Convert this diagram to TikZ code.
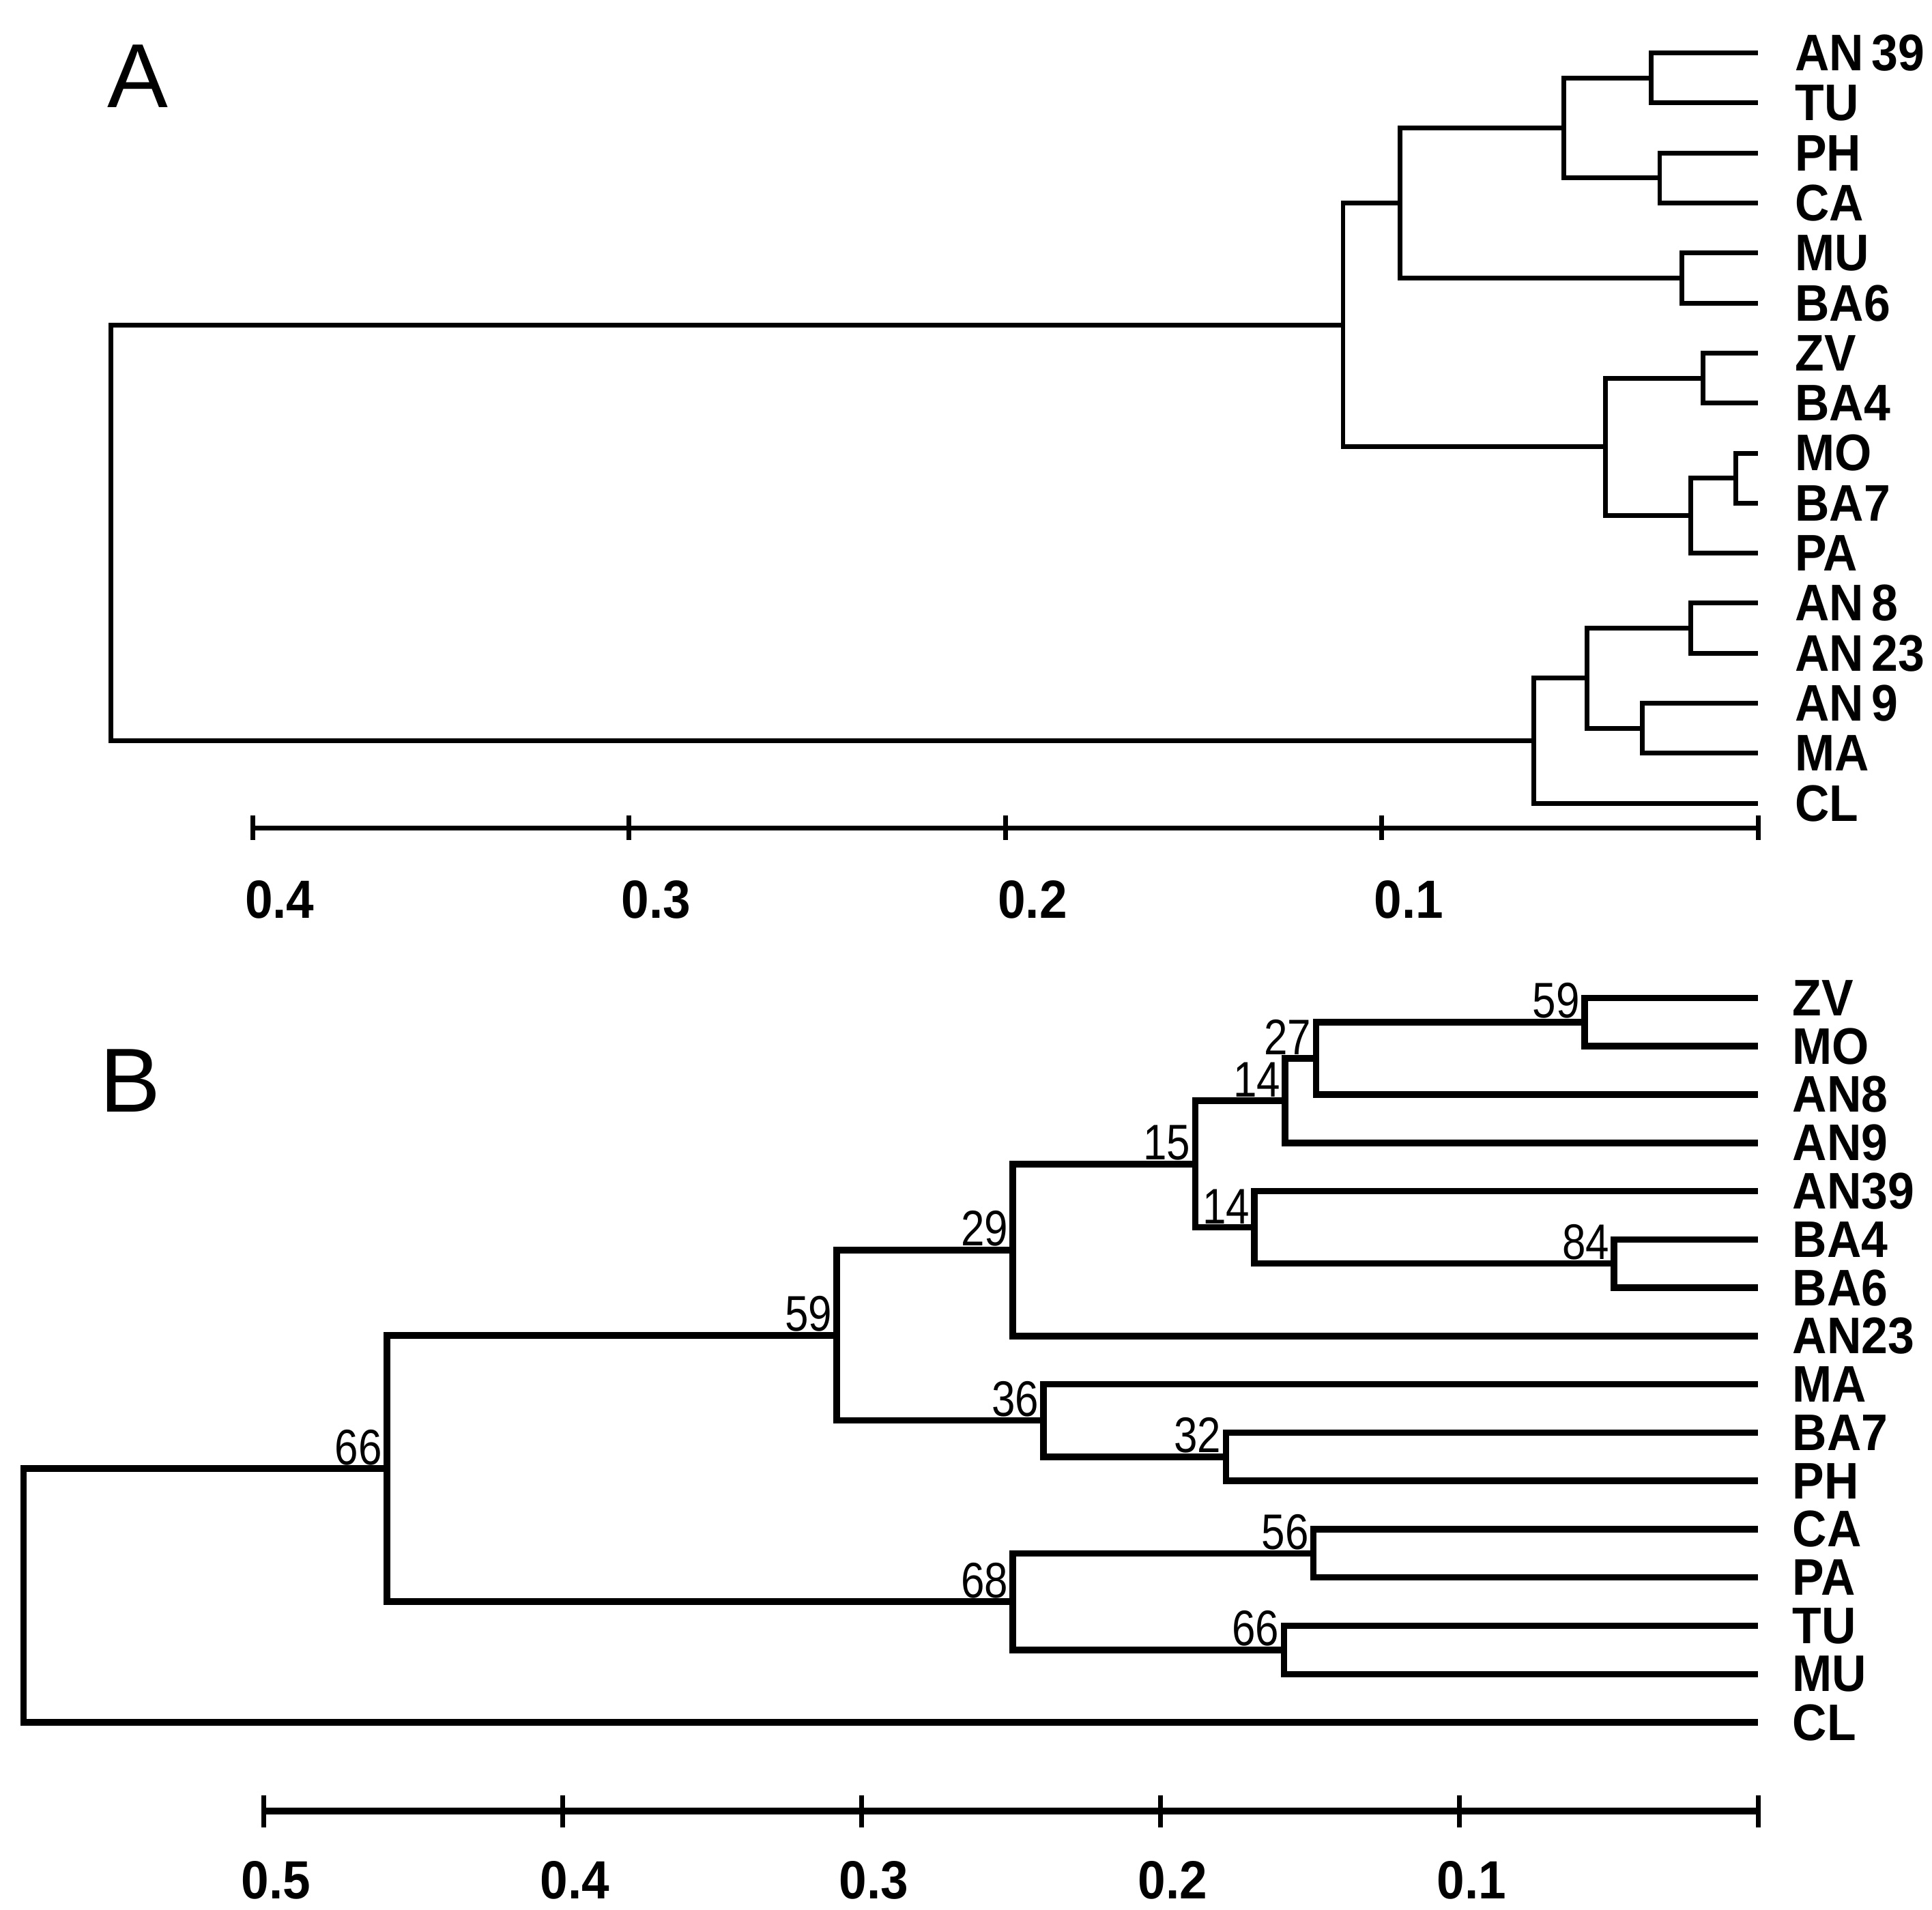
\documentclass[tikz,border=0pt]{standalone}
\usepackage{fontspec}
\setmainfont{Liberation Sans}
\usetikzlibrary{positioning}
\newcommand{\vstretch}[1]{\scalebox{1}[1.08]{#1}}
\newcommand{\bootnum}[1]{\scalebox{0.93}[1.1]{#1}}
\tikzset{
    every picture/.style={line width=0.5pt},
    treeA/.style={line width=1.1pt},
    treeB/.style={line width=1.5pt},
    leaflab/.style={inner sep=0pt,font=\fontsize{11}{13}\selectfont\bfseries},
    bootlab/.style={inner sep=0pt,font=\fontsize{10.5}{12}\selectfont},
    axlab/.style={inner sep=0pt,font=\fontsize{11.5}{13}\selectfont\bfseries},
    panellab/.style={inner sep=0pt,font=\fontsize{21}{24}\selectfont}
}

\begin{document}
\begin{tikzpicture}[x=0.1mm,y=-0.1mm]
    \useasboundingbox (0,0) rectangle (1568,1550);

    % Panel A
    \node[panellab] (pA) at (112,62) {A};
    \foreach \nm/\txt [count=\i from 0] in {AN39/{AN\,39},TU/TU,PH/PH,CA/CA,MU/MU,BA6/BA6,ZV/ZV,BA4/BA4,MO/MO,BA7/BA7,PA/PA,AN8/{AN\,8},AN23/{AN\,23},AN9/{AN\,9},MA/MA,CL/CL}{
        \coordinate (a\nm) at (1427,{43+40.6*\i});
        \node[leaflab,right=2.9mm of a\nm] (a\nm-t) {\vstretch{\txt}};
    }
    \coordinate (aN1) at (1340,63.3);
    \coordinate (aN2) at (1347,144.5);
    \coordinate (aN3) at (1269,103.9);
    \coordinate (aN4) at (1365,225.7);
    \coordinate (aN5) at (1136,164.8);
    \coordinate (aN6) at (1382,306.9);
    \coordinate (aN7) at (1409,388.1);
    \coordinate (aN8) at (1372,418.6);
    \coordinate (aN9) at (1303,362.7);
    \coordinate (aN10) at (1090,263.8);
    \coordinate (aN11) at (1372,509.9);
    \coordinate (aN12) at (1333,591.1);
    \coordinate (aN13) at (1288,550.5);
    \coordinate (aN14) at (1245,601.3);
    \coordinate (aRoot) at (90,432.5);
    \draw[treeA] (aN1) |- (aAN39) (aN1) |- (aTU)
        (aN2) |- (aPH) (aN2) |- (aCA)
        (aN3) |- (aN1) (aN3) |- (aN2)
        (aN4) |- (aMU) (aN4) |- (aBA6)
        (aN5) |- (aN3) (aN5) |- (aN4)
        (aN6) |- (aZV) (aN6) |- (aBA4)
        (aN7) |- (aMO) (aN7) |- (aBA7)
        (aN8) |- (aN7) (aN8) |- (aPA)
        (aN9) |- (aN6) (aN9) |- (aN8)
        (aN10) |- (aN5) (aN10) |- (aN9)
        (aN11) |- (aAN8) (aN11) |- (aAN23)
        (aN12) |- (aAN9) (aN12) |- (aMA)
        (aN13) |- (aN11) (aN13) |- (aN12)
        (aN14) |- (aN13) (aN14) |- (aCL)
        (aRoot) |- (aN10) (aRoot) |- (aN14);

    % scale A
    \foreach \x [count=\i] in {205,510.5,816,1121.5,1427}{
        \coordinate (aTk\i) at (\x,672);
        \draw[treeA] (\x,662) -- (\x,682);
    }
    \draw[treeA] (aTk1) -- (aTk5);
    \foreach \x/\v [count=\i] in {205/0.4,510.5/0.3,816/0.2,1121.5/0.1}
        \node[axlab] (aVal\i) at (\x+22,730) {\vstretch{\v}};

    % Panel B
    \node[panellab] (pB) at (106,877) {B};
    \foreach \nm [count=\i from 0] in {ZV,MO,AN8,AN9,AN39,BA4,BA6,AN23,MA,BA7,PH,CA,PA,TU,MU,CL}{
        \coordinate (b\nm) at (1427,{810+39.2*\i});
        \node[leaflab,right=2.7mm of b\nm] (b\nm-t) {\vstretch{\nm}};
    }
    \coordinate (bN1) at (1286,829.6);
    \coordinate (bN2) at (1068,859);
    \coordinate (bN3) at (1043,893.3);
    \coordinate (bN4) at (1310,1025.6);
    \coordinate (bN5) at (1018,996.2);
    \coordinate (bN6) at (970,944.8);
    \coordinate (bN7) at (822,1014.6);
    \coordinate (bN8) at (995,1182.4);
    \coordinate (bN9) at (847,1153);
    \coordinate (bN10) at (679,1083.8);
    \coordinate (bN11) at (1066,1260.8);
    \coordinate (bN12) at (1042,1339.2);
    \coordinate (bN13) at (822,1300);
    \coordinate (bN14) at (314,1191.9);
    \coordinate (bRoot) at (19,1295);
    \draw[treeB] (bN1) |- (bZV) (bN1) |- (bMO)
        (bN2) |- (bN1) (bN2) |- (bAN8)
        (bN3) |- (bN2) (bN3) |- (bAN9)
        (bN4) |- (bBA4) (bN4) |- (bBA6)
        (bN5) |- (bAN39) (bN5) |- (bN4)
        (bN6) |- (bN3) (bN6) |- (bN5)
        (bN7) |- (bN6) (bN7) |- (bAN23)
        (bN8) |- (bBA7) (bN8) |- (bPH)
        (bN9) |- (bMA) (bN9) |- (bN8)
        (bN10) |- (bN7) (bN10) |- (bN9)
        (bN11) |- (bCA) (bN11) |- (bPA)
        (bN12) |- (bTU) (bN12) |- (bMU)
        (bN13) |- (bN11) (bN13) |- (bN12)
        (bN14) |- (bN10) (bN14) |- (bN13)
        (bRoot) |- (bN14) (bRoot) |- (bCL);

    % bootstrap values
    \node[bootlab,above left=0.2mm and 0.3mm of bN1] (bs1) {\bootnum{59}};
    \node[bootlab,above left=0.2mm and 0.3mm of bN2] (bs2) {\bootnum{27}};
    \node[bootlab,above left=0.2mm and 0.3mm of bN3] (bs3) {\bootnum{14}};
    \node[bootlab,above left=0.2mm and 0.3mm of bN4] (bs4) {\bootnum{84}};
    \node[bootlab,above left=0.2mm and 0.3mm of bN5] (bs5) {\bootnum{14}};
    \node[bootlab,above left=0.2mm and 0.3mm of bN6] (bs6) {\bootnum{15}};
    \node[bootlab,above left=0.2mm and 0.3mm of bN7] (bs7) {\bootnum{29}};
    \node[bootlab,above left=0.2mm and 0.3mm of bN8] (bs8) {\bootnum{32}};
    \node[bootlab,above left=0.2mm and 0.3mm of bN9] (bs9) {\bootnum{36}};
    \node[bootlab,above left=0.2mm and 0.3mm of bN10] (bs10) {\bootnum{59}};
    \node[bootlab,above left=0.2mm and 0.3mm of bN11] (bs11) {\bootnum{56}};
    \node[bootlab,above left=0.2mm and 0.3mm of bN12] (bs12) {\bootnum{66}};
    \node[bootlab,above left=0.2mm and 0.3mm of bN13] (bs13) {\bootnum{68}};
    \node[bootlab,above left=0.2mm and 0.3mm of bN14] (bs14) {\bootnum{66}};

    % scale B
    \foreach \x [count=\i] in {214,456.6,699.2,941.8,1184.4,1427}{
        \coordinate (bTk\i) at (\x,1470);
        \draw[treeA] (\x,1457) -- (\x,1483);
    }
    \draw[treeB] (bTk1) -- (bTk6);
    \foreach \x/\v [count=\i] in {214/0.5,456.6/0.4,699.2/0.3,941.8/0.2,1184.4/0.1}
        \node[axlab] (bVal\i) at (\x+10,1526) {\vstretch{\v}};
\end{tikzpicture}
\end{document}
